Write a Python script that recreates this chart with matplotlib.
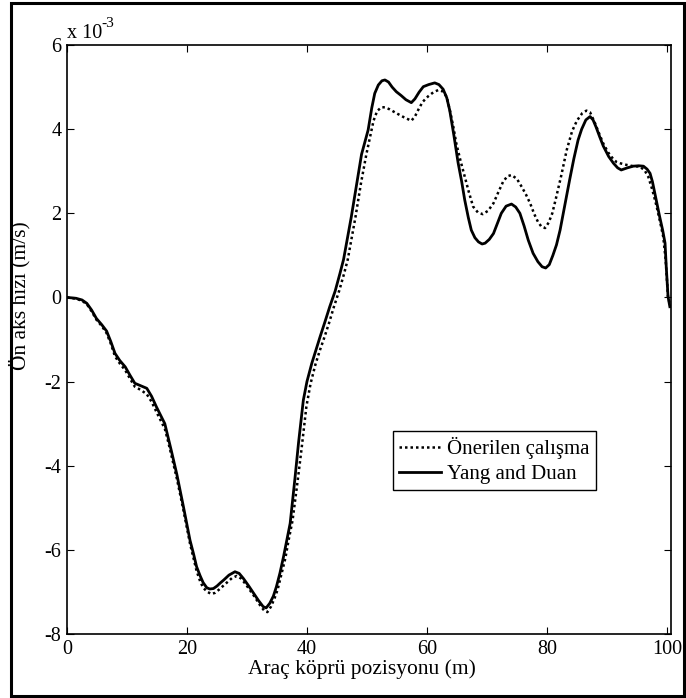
import matplotlib
matplotlib.use("Agg")
import matplotlib.pyplot as plt
from matplotlib.patches import Rectangle

plt.rcParams['font.family'] = ['Liberation Serif', 'DejaVu Serif']
plt.rcParams['axes.unicode_minus'] = False

# Yang and Duan (solid), values in 1e-3 m/s
x_yang = [0, 1.5, 2.5, 3.3, 4.1, 4.9, 5.8, 6.6, 7.3, 8.0, 8.8, 9.7, 10.5, 11.3, 12.3,
          13.3, 14.1, 14.9, 15.6, 16.3, 16.9, 17.4, 18.3, 19.4, 20.5, 21.1, 21.6,
          22.2, 22.7, 23.3, 23.8, 24.4, 25.0, 25.6, 26.1, 27.0, 28.0, 28.7, 29.4,
          30.3, 31.1, 31.9, 32.7, 33.2, 33.8, 34.4, 34.9, 35.5, 36.1, 36.6, 37.2,
          38.0, 38.6, 39.4, 40.0, 40.8, 41.5, 42.2, 43.0, 43.8, 44.7, 45.5, 46.1,
          46.6, 47.4, 48.3, 49.1, 50.2, 50.8, 51.3, 51.9, 52.5, 53.0, 53.6, 54.2,
          54.9, 55.7, 56.5, 57.4, 58.0, 58.7, 59.4, 60.3, 61.3, 62.0, 62.7, 63.3,
          63.8, 64.5, 65.2, 65.8, 66.3, 66.9, 67.4, 68.0, 68.6, 69.2, 69.7, 70.4,
          71.1, 71.8, 72.4, 73.2, 74.1, 74.8, 75.5, 76.2, 76.9, 77.7, 78.5, 79.2,
          79.8, 80.4, 81.0, 81.6, 82.2, 83.0, 83.8, 84.5, 85.2, 85.8, 86.5, 87.2,
          87.7, 88.2, 88.8, 89.4, 90.3, 91.1, 91.8, 92.4, 93.4, 94.4, 95.3, 96.1,
          96.7, 97.2, 97.6, 98.0, 98.8, 99.3, 99.7, 99.9, 100.2, 100.5]
y_yang = [0, -0.02, -0.06, -0.14, -0.3, -0.5, -0.65, -0.8, -1.05, -1.33, -1.5, -1.65,
          -1.85, -2.04, -2.1, -2.16, -2.35, -2.6, -2.8, -3.0, -3.35, -3.65, -4.2,
          -4.97, -5.77, -6.1, -6.4, -6.62, -6.78, -6.9, -6.93, -6.92, -6.86, -6.78,
          -6.72, -6.6, -6.52, -6.56, -6.68, -6.86, -7.03, -7.2, -7.35, -7.38, -7.27,
          -7.1, -6.88, -6.55, -6.16, -5.8, -5.37, -4.3, -3.45, -2.44, -2.0, -1.57,
          -1.25, -0.93, -0.58, -0.22, 0.15, 0.57, 0.9, 1.29, 1.92, 2.71, 3.4, 3.98,
          4.5, 4.85, 5.05, 5.15, 5.17, 5.12, 5.0, 4.89, 4.8, 4.7, 4.63, 4.72, 4.88,
          5.01, 5.06, 5.10, 5.06, 4.95, 4.75, 4.45, 3.85, 3.2, 2.75, 2.32, 1.9, 1.6,
          1.42, 1.32, 1.27, 1.29, 1.38, 1.52, 1.78, 2.0, 2.17, 2.22, 2.15, 2.0, 1.7,
          1.36, 1.05, 0.85, 0.73, 0.7, 0.78, 1.0, 1.25, 1.6, 2.2, 2.8, 3.3, 3.74,
          4.0, 4.22, 4.3, 4.22, 4.05, 3.82, 3.6, 3.35, 3.19, 3.08, 3.03, 3.08, 3.12,
          3.13, 3.12, 3.05, 2.95, 2.75, 2.47, 1.92, 1.6, 1.29, 0.73, 0.02, -0.22]

# Proposed study (dotted), values in 1e-3 m/s
x_oner = [0, 1.5, 2.5, 3.3, 4.1, 4.9, 5.8, 6.6, 7.3, 8.0, 8.8, 9.7, 10.5, 11.3, 12.3,
          13.3, 14.1, 14.9, 15.6, 16.3, 16.9, 17.4, 18.3, 19.4, 20.5, 21.1, 21.6,
          22.2, 22.7, 23.4, 24.1, 24.7, 25.3, 26.0, 26.6, 27.5, 28.3, 29.0, 29.7,
          30.5, 31.3, 32.1, 32.9, 33.4, 34.0, 34.6, 35.1, 35.7, 36.4, 36.9, 37.6,
          38.5, 39.1, 39.9, 40.6, 41.4, 42.1, 42.9, 43.7, 44.5, 45.4, 46.2, 46.8,
          47.3, 48.1, 49.0, 49.9, 50.5, 51.1, 51.7, 52.4, 53.0, 53.8, 54.9, 56.2,
          57.4, 58.0, 58.7, 59.3, 60.2, 61.1, 61.9, 62.6, 63.3, 63.9, 64.4, 64.9,
          65.6, 66.3, 67.0, 67.7, 68.5, 69.3, 70.2, 71.1, 71.9, 72.7, 73.4, 74.1,
          75.0, 75.8, 76.5, 77.2, 77.9, 78.5, 79.1, 79.7, 80.3, 80.9, 81.5, 82.4,
          83.3, 84.2, 85.0, 85.9, 86.6, 87.2, 88.0, 88.7, 89.4, 90.2, 91.0, 91.6,
          92.2, 93.3, 94.4, 95.5, 96.3, 96.9, 97.6, 98.3, 98.9, 99.4, 99.8, 100.2,
          100.5]
y_oner = [0, -0.03, -0.08, -0.16, -0.33, -0.53, -0.68, -0.85, -1.1, -1.4, -1.57, -1.73,
          -1.93, -2.12, -2.2, -2.3, -2.48, -2.72, -2.92, -3.12, -3.45, -3.75, -4.3,
          -5.05, -5.85, -6.2, -6.5, -6.75, -6.9, -7.0, -7.05, -7.02, -6.95, -6.86,
          -6.78, -6.67, -6.62, -6.68, -6.8, -6.96, -7.12, -7.3, -7.45, -7.48, -7.35,
          -7.15, -6.95, -6.6, -6.2, -5.8, -5.3, -4.3, -3.6, -2.6, -2.05, -1.6, -1.28,
          -0.95, -0.6, -0.22, 0.17, 0.57, 0.9, 1.29, 1.92, 2.71, 3.4, 3.8, 4.2, 4.43,
          4.52, 4.52, 4.47, 4.38, 4.28, 4.2, 4.3, 4.5, 4.65, 4.78, 4.88, 4.93, 4.9,
          4.77, 4.4, 4.06, 3.66, 3.25, 2.87, 2.5, 2.16, 2.02, 1.98, 2.06, 2.24, 2.5,
          2.75, 2.88, 2.91, 2.82, 2.63, 2.45, 2.24, 1.98, 1.8, 1.68, 1.65, 1.78, 2.0,
          2.35, 2.9, 3.5, 3.95, 4.2, 4.38, 4.44, 4.4, 4.15, 3.9, 3.66, 3.45, 3.3,
          3.22, 3.19, 3.15, 3.12, 3.11, 3.02, 2.87, 2.55, 2.16, 1.78, 1.44, 0.9, 0.0,
          -0.15]

x_ticks = [0, 20, 40, 60, 80, 100]
y_ticks = [-8, -6, -4, -2, 0, 2, 4, 6]

FS_TICK = 14.5
FS_LABEL = 15.5
FS_LEG = 15

fig = plt.figure(figsize=(6.86, 6.98), dpi=100)
ax = fig.add_axes([0.0977, 0.0917, 0.8805, 0.8438])

ax.plot(x_oner, y_oner, color='black', linestyle=(0, (1, 1.2)), linewidth=1.8,
        label='Önerilen çalışma')
ax.plot(x_yang, y_yang, color='black', linestyle='-', linewidth=2.0,
        label='Yang and Duan')

ax.set_xlim(0, 100.7)
ax.set_ylim(-8, 6)
ax.set_xticks(x_ticks)
ax.set_yticks(y_ticks)
ax.tick_params(direction='in', length=5, width=0.8, labelsize=FS_TICK,
               top=True, right=True, pad=4)
for s in ax.spines.values():
    s.set_linewidth(1.2)

ax.set_xlabel('Araç köprü pozisyonu (m)', fontsize=FS_LABEL, va='top')
ax.xaxis.set_label_coords(0.488, -0.043)
ax.set_ylabel('Ön aks hızı (m/s)', fontsize=FS_LABEL)
ax.yaxis.set_label_coords(-0.061, 0.574)

ax.text(0.0, 1.0125, 'x 10', transform=ax.transAxes, fontsize=FS_TICK,
        ha='left', va='baseline')
ax.text(0.0575, 1.047, '-3', transform=ax.transAxes, fontsize=11,
        ha='left', va='top')

leg = ax.legend(loc='lower left', bbox_to_anchor=(0.54, 0.244), fontsize=FS_LEG,
                frameon=True, fancybox=False, edgecolor='black', framealpha=1,
                handlelength=2.0, handletextpad=0.3, borderpad=0.3,
                labelspacing=0.25, borderaxespad=0)
leg.get_frame().set_linewidth(1.0)

fig.patches.append(Rectangle((0.016, 0.003), 0.981, 0.993, transform=fig.transFigure,
                             fill=False, edgecolor='black', linewidth=2.2))

fig.savefig('out.png', dpi=100)
